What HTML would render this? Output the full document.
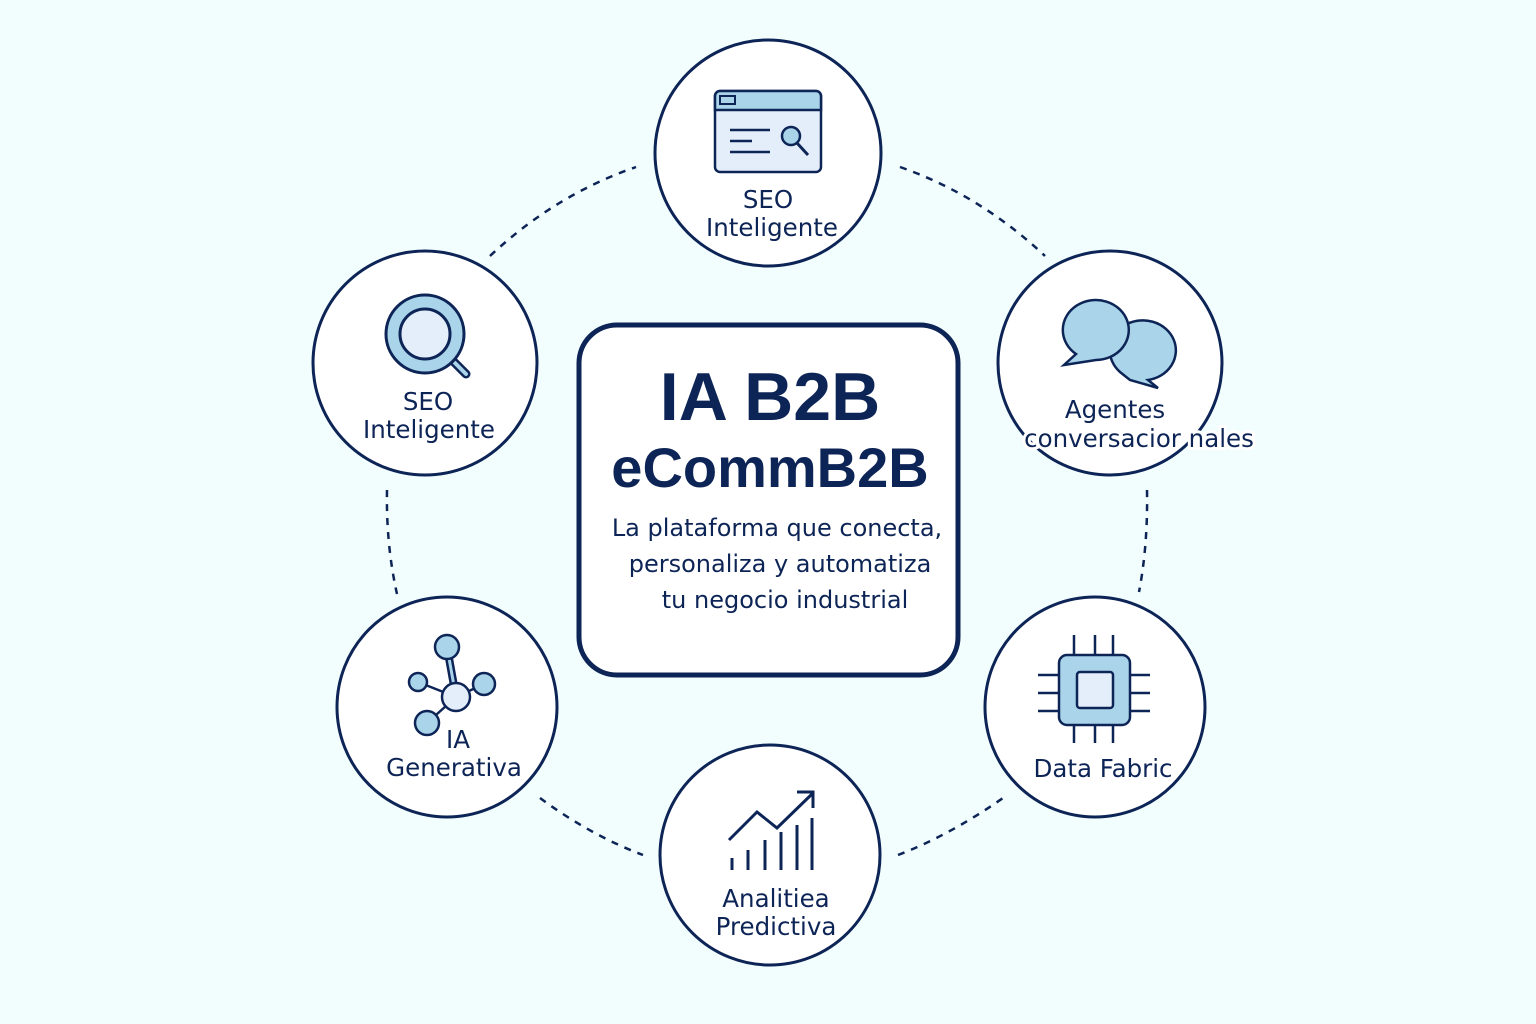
<!DOCTYPE html>
<html><head><meta charset="utf-8"><style>
html,body{margin:0;padding:0;background:#f2fdfe;}
svg{display:block}
text{font-family:"DejaVu Sans","Liberation Sans",sans-serif;fill:#0d2456;}
.t{font-family:"Liberation Sans",sans-serif;}
.l{font-size:24.5px;}
</style></head><body>
<svg width="1536" height="1024" viewBox="0 0 1536 1024">
<rect width="1536" height="1024" fill="#f2fdfe"/>
<g fill="none" stroke="#0d2456" stroke-width="2.5" stroke-dasharray="7,7">
<path d="M490 256 Q555 195 636 167"/>
<path d="M900 167 Q980 195 1045 256"/>
<path d="M387 490 Q386 545 397 594"/>
<path d="M1147 490 Q1148 545 1139 592"/>
<path d="M540 798 Q590 835 643 855"/>
<path d="M898 855 Q950 835 1003 798"/>
</g>
<g fill="#fff" stroke="#0d2456" stroke-width="3">
<circle cx="768" cy="153" r="113"/>
<circle cx="1110" cy="363" r="112"/>
<circle cx="425" cy="363" r="112"/>
<circle cx="447" cy="707" r="110"/>
<circle cx="1095" cy="707" r="110"/>
<circle cx="770" cy="855" r="110"/>
</g>
<rect x="579" y="325" width="379" height="350" rx="38" fill="#fff" stroke="#0d2456" stroke-width="5"/>
<text class="t" x="770" y="420" font-size="68" font-weight="bold" text-anchor="middle">IA B2B</text>
<text class="t" x="770" y="487" font-size="56" font-weight="bold" text-anchor="middle">eCommB2B</text>
<text x="777" y="536" font-size="24" text-anchor="middle">La plataforma que conecta,</text>
<text x="780" y="572" font-size="24" text-anchor="middle">personaliza y automatiza</text>
<text x="785" y="608" font-size="24" text-anchor="middle">tu negocio industrial</text>

<g stroke="#0d2456" stroke-width="2.5">
<rect x="715" y="91" width="106" height="81" rx="5" fill="#e4eefa"/>
<path d="M715 110 H821 V96 a5 5 0 0 0 -5 -5 H720 a5 5 0 0 0 -5 5 Z" fill="#a9d4ea"/>
<rect x="720" y="96" width="15" height="8" fill="none" stroke-width="2"/>
<line x1="730" y1="130" x2="770" y2="130"/><line x1="730" y1="141" x2="752" y2="141"/><line x1="730" y1="152" x2="770" y2="152"/>
<circle cx="791" cy="136" r="9" fill="#a9d4ea"/><line x1="797" y1="143" x2="808" y2="155" stroke-width="3"/>
</g>
<text class="l" x="768" y="208" text-anchor="middle">SEO</text>
<text class="l" x="772" y="236" text-anchor="middle" stroke="#fff" stroke-width="5" paint-order="stroke">Inteligente</text>

<g stroke="#0d2456" stroke-width="3">
<line x1="452" y1="360" x2="466" y2="374" stroke-width="9" stroke-linecap="round"/>
<line x1="452" y1="360" x2="466" y2="374" stroke="#a9d4ea" stroke-width="4" stroke-linecap="round"/>
<circle cx="425" cy="334" r="39" fill="#a9d4ea"/>
<circle cx="425" cy="334" r="25" fill="#e4eefa"/>
</g>
<text class="l" x="428" y="410" text-anchor="middle">SEO</text>
<text class="l" x="429" y="438" text-anchor="middle">Inteligente</text>

<g stroke="#0d2456" stroke-width="2.5" fill="#a9d4ea">
<path d="M1120 372 a33 30 0 1 1 28 8 L1158 388 L1130 380 Z"/>
<path d="M1076 354 a33 30 0 1 1 20 6 L1064 365 Z"/>
</g>
<text class="l" x="1115" y="418" text-anchor="middle" stroke="#fff" stroke-width="6" paint-order="stroke">Agentes</text>
<text class="l" x="1139" y="447" text-anchor="middle" stroke="#fff" stroke-width="6" paint-order="stroke">conversacior nales</text>

<g stroke="#0d2456" stroke-width="2.5" fill="#a9d4ea">
<line x1="447" y1="647" x2="456" y2="697" stroke-width="8"/>
<line x1="447" y1="647" x2="456" y2="697" stroke="#a9d4ea" stroke-width="3"/>
<line x1="418" y1="682" x2="456" y2="697"/><line x1="484" y1="684" x2="456" y2="697"/><line x1="427" y1="723" x2="456" y2="697"/>
<circle cx="447" cy="647" r="12"/>
<circle cx="418" cy="682" r="9"/>
<circle cx="484" cy="684" r="11"/>
<circle cx="427" cy="723" r="12"/>
<circle cx="456" cy="697" r="14" fill="#e4eefa"/>
</g>
<text class="l" x="458" y="748" text-anchor="middle">IA</text>
<text class="l" x="454" y="776" text-anchor="middle" stroke="#fff" stroke-width="5" paint-order="stroke">Generativa</text>

<g stroke="#0d2456" stroke-width="2.5">
<line x1="1074" y1="635" x2="1074" y2="743"/><line x1="1095" y1="635" x2="1095" y2="743"/><line x1="1113" y1="635" x2="1113" y2="743"/>
<line x1="1038" y1="675" x2="1150" y2="675"/><line x1="1038" y1="693" x2="1150" y2="693"/><line x1="1038" y1="711" x2="1150" y2="711"/>
<rect x="1059" y="655" width="71" height="70" rx="8" fill="#a9d4ea"/>
<rect x="1077" y="672" width="36" height="36" rx="3" fill="#e4eefa"/>
</g>
<text class="l" x="1103" y="777" text-anchor="middle" stroke="#fff" stroke-width="5" paint-order="stroke">Data Fabric</text>

<g stroke="#0d2456" stroke-width="3" fill="none">
<polyline points="729,840 757,812 777,828 812,794"/>
<polyline points="797,792 813,792 813,808"/>
<line x1="732" y1="858" x2="732" y2="870"/><line x1="748" y1="850" x2="748" y2="870"/><line x1="765" y1="840" x2="765" y2="870"/><line x1="781" y1="832" x2="781" y2="870"/><line x1="797" y1="825" x2="797" y2="870"/><line x1="812" y1="818" x2="812" y2="870"/>
</g>
<text class="l" x="776" y="907" text-anchor="middle">Analitiea</text>
<text class="l" x="776" y="935" text-anchor="middle" stroke="#fff" stroke-width="5" paint-order="stroke">Predictiva</text>
</svg>
</body></html>
